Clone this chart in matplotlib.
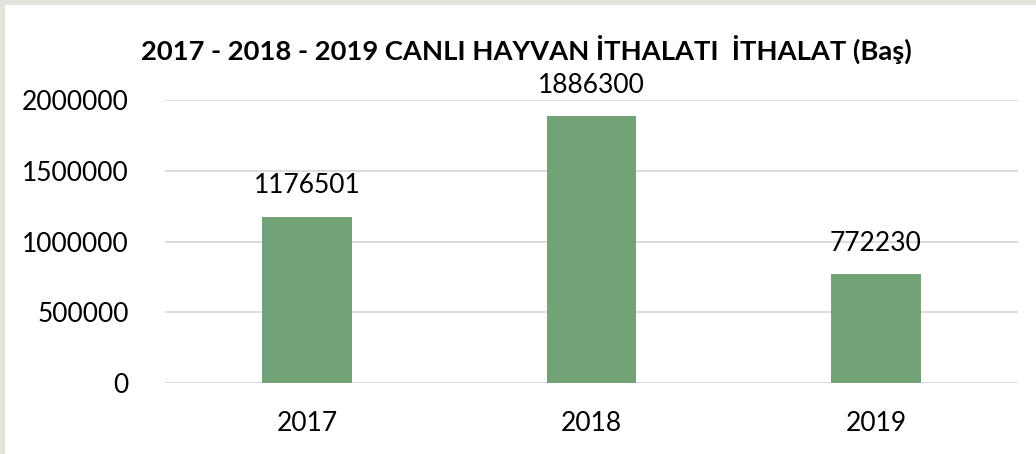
import matplotlib
matplotlib.use("Agg")
import matplotlib.pyplot as plt
from matplotlib.patches import Rectangle

years = ["2017", "2018", "2019"]
imports = [1176501, 1886300, 772230]
yticks = [0, 500000, 1000000, 1500000, 2000000]
title = "2017 - 2018 - 2019 CANLI HAYVAN İTHALATI  İTHALAT (Baş)"

bar_color = "#71a377"
grid_color = "#d9d9d9"
text_color = "#000000"

plt.rcParams["font.family"] = ["Lato", "DejaVu Sans"]

fig = plt.figure(figsize=(10.36, 4.54), dpi=100)
fig.patch.set_facecolor("#e3e3de")
# white chart panel behind the axes
fig.patches.append(Rectangle((5 / 1036, 0), 1 - 5 / 1036, 1 - 5 / 454,
                             transform=fig.transFigure, facecolor="white",
                             edgecolor="none", zorder=-1))

ax = fig.add_axes([165 / 1036, (454 - 383) / 454, (1018 - 165) / 1036, (383 - 100) / 454])
ax.set_facecolor("none")
ax.set_zorder(1)

x = range(len(years))
ax.bar(x, imports, width=0.315, color=bar_color, zorder=3)
for xi, v in zip(x, imports):
    ax.annotate(f"{v}", (xi, v), xytext=(0, 13), textcoords="offset points",
                ha="center", va="bottom", fontsize=19, color=text_color)

ax.set_xlim(-0.5, len(years) - 0.5)
ax.set_ylim(0, 2000000)
ax.set_yticks(yticks)
ax.set_yticklabels([str(t) for t in yticks], fontsize=19)
ax.set_xticks(list(x))
ax.set_xticklabels(years, fontsize=19)
ax.grid(axis="y", color=grid_color, linewidth=1.3, zorder=0)
for s in ax.spines.values():
    s.set_visible(False)
ax.tick_params(axis="both", length=0, colors=text_color)
ax.tick_params(axis="y", pad=26)
ax.tick_params(axis="x", pad=20)

fig.text(526 / 1036, 1 - 49 / 454, title, ha="center", va="center",
         fontsize=19.7, fontweight="bold", color=text_color)

fig.savefig("out.png", dpi=100, facecolor=fig.get_facecolor())
